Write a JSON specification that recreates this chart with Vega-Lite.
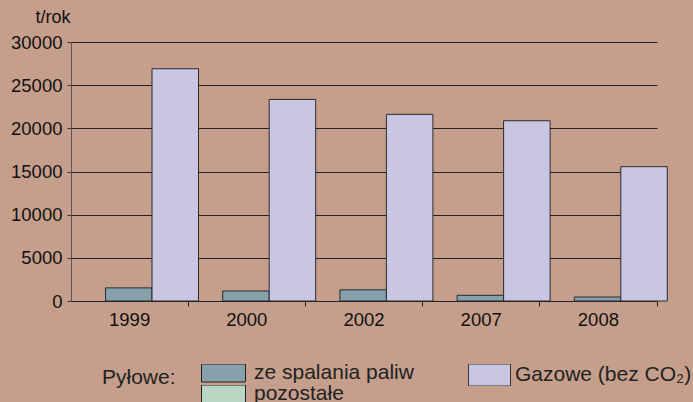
{
  "$schema": "https://vega.github.io/schema/vega-lite/v6.json",
  "width": 586,
  "height": 259,
  "autosize": {"type": "none"},
  "padding": {"left": 71, "top": 42, "right": 36, "bottom": 101},
  "background": "#c59f8c",
  "config": {
    "view": {"stroke": null},
    "font": "Liberation Sans"
  },
  "data": {
    "values": [
      {"rok": "1999", "grupa": "Pyłowe", "seria": "ze spalania paliw", "wartosc": 1520},
      {"rok": "2000", "grupa": "Pyłowe", "seria": "ze spalania paliw", "wartosc": 1160},
      {"rok": "2002", "grupa": "Pyłowe", "seria": "ze spalania paliw", "wartosc": 1290},
      {"rok": "2007", "grupa": "Pyłowe", "seria": "ze spalania paliw", "wartosc": 660},
      {"rok": "2008", "grupa": "Pyłowe", "seria": "ze spalania paliw", "wartosc": 460},
      {"rok": "1999", "grupa": "Gazowe", "seria": "Gazowe (bez CO₂)", "wartosc": 26900},
      {"rok": "2000", "grupa": "Gazowe", "seria": "Gazowe (bez CO₂)", "wartosc": 23350},
      {"rok": "2002", "grupa": "Gazowe", "seria": "Gazowe (bez CO₂)", "wartosc": 21620},
      {"rok": "2007", "grupa": "Gazowe", "seria": "Gazowe (bez CO₂)", "wartosc": 20880},
      {"rok": "2008", "grupa": "Gazowe", "seria": "Gazowe (bez CO₂)", "wartosc": 15560}
    ]
  },
  "encoding": {
    "x": {
      "field": "rok",
      "type": "nominal",
      "scale": {"paddingInner": 0, "paddingOuter": 0},
      "axis": {
        "title": null,
        "bandPosition": 1,
        "labelAngle": 0,
        "labelDx": -40,
        "labelFontSize": 18.5,
        "labelColor": "#111",
        "labelPadding": 4,
        "tickSize": 5,
        "tickColor": "#222",
        "domainColor": "#222",
        "grid": false
      }
    },
    "xOffset": {
      "field": "seria",
      "type": "nominal",
      "scale": {
        "domain": ["ze spalania paliw", "Gazowe (bez CO₂)"],
        "range": [34.5, 127.5],
        "paddingInner": 0,
        "paddingOuter": 0
      }
    },
    "y": {
      "field": "wartosc",
      "type": "quantitative",
      "scale": {"domain": [0, 30000], "nice": false},
      "axis": {
        "title": "t/rok",
        "titleAngle": 0,
        "titleAlign": "left",
        "titleBaseline": "alphabetic",
        "titleX": -36,
        "titleY": -20,
        "titleFontSize": 18,
        "titleFontWeight": "normal",
        "titleColor": "#111",
        "values": [0, 5000, 10000, 15000, 20000, 25000, 30000],
        "format": "d",
        "labelFontSize": 18.5,
        "labelColor": "#111",
        "labelPadding": 5,
        "tickSize": 4,
        "tickColor": "#333",
        "domainColor": "#555",
        "grid": true,
        "gridColor": "#222",
        "gridOpacity": 1
      }
    }
  },
  "layer": [
    {
      "transform": [{"filter": "datum.grupa == 'Pyłowe'"}],
      "mark": {"type": "bar", "stroke": "#2a2a2a", "strokeWidth": 1},
      "encoding": {
        "fill": {
          "field": "seria",
          "type": "nominal",
          "scale": {
            "domain": ["ze spalania paliw", "pozostałe"],
            "range": ["#86a1ab", "#b9d6c5"]
          },
          "legend": {
            "title": "Pyłowe:",
            "orient": "none",
            "legendX": 31,
            "legendY": 322,
            "direction": "vertical",
            "titleOrient": "left",
            "titleAnchor": "middle",
            "titleFontSize": 21,
            "titleFontWeight": "normal",
            "titleColor": "#222",
            "titleBaseline": "alphabetic",
            "titlePadding": 25,
            "labelFontSize": 21,
            "labelColor": "#222",
            "labelOffset": 8,
            "labelLimit": 300,
            "symbolType": "M-1,-0.409H1V0.409H-1Z",
            "symbolSize": 1936,
            "symbolStrokeColor": "#222",
            "symbolStrokeWidth": 1,
            "symbolOpacity": 1,
            "clipHeight": 18,
            "rowPadding": 0,
            "padding": 0
          }
        }
      }
    },
    {
      "transform": [{"filter": "datum.grupa == 'Gazowe'"}],
      "mark": {"type": "bar", "stroke": "#2a2a2a", "strokeWidth": 1},
      "encoding": {
        "color": {
          "field": "seria",
          "type": "nominal",
          "scale": {"domain": ["Gazowe (bez CO₂)"], "range": ["#c8c6e2"]},
          "legend": {
            "title": null,
            "orient": "none",
            "legendX": 397,
            "legendY": 322,
            "labelFontSize": 21,
            "labelColor": "#222",
            "labelOffset": 4,
            "labelLimit": 300,
            "symbolType": "M-1,-0.524H1V0.524H-1Z",
            "symbolSize": 1764,
            "symbolStrokeColor": "#333",
            "symbolStrokeWidth": 1,
            "symbolOpacity": 1,
            "clipHeight": 22,
            "padding": 0
          }
        }
      }
    }
  ]
}
